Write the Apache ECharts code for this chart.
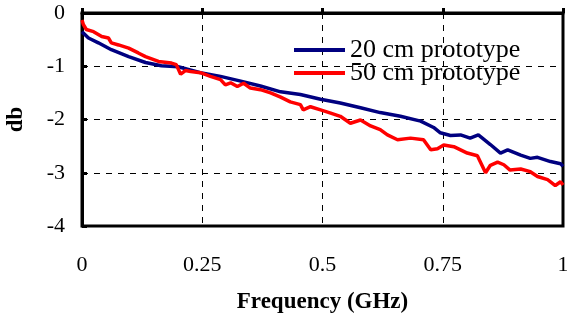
<!DOCTYPE html>
<html>
<head>
<meta charset="utf-8">
<script src="https://cdn.jsdelivr.net/npm/echarts@6/dist/echarts.min.js"></script>
<style>
html,body{margin:0;padding:0;background:#fff;}
#chart{width:567px;height:322px;}
</style>
</head>
<body>
<div id="chart"></div>
<script>
// Frequency (GHz) and loss (dB)
const freq20 = [0, 0.0135, 0.034, 0.061, 0.097, 0.132, 0.165, 0.2, 0.246, 0.288, 0.33, 0.371, 0.413, 0.454, 0.496, 0.537, 0.579, 0.62, 0.662, 0.704, 0.731, 0.745, 0.766, 0.787, 0.807, 0.824, 0.849, 0.87, 0.885, 0.912, 0.932, 0.947, 0.974, 0.995, 1.0];
const db20 = [-0.35, -0.47, -0.56, -0.69, -0.82, -0.93, -0.99, -1.01, -1.12, -1.19, -1.28, -1.37, -1.48, -1.53, -1.62, -1.69, -1.78, -1.87, -1.94, -2.03, -2.15, -2.25, -2.30, -2.29, -2.35, -2.29, -2.47, -2.63, -2.57, -2.67, -2.73, -2.71, -2.79, -2.83, -2.88];

const freq50 = [0, 0.003, 0.009, 0.024, 0.041, 0.055, 0.061, 0.076, 0.097, 0.117, 0.132, 0.159, 0.186, 0.196, 0.205, 0.215, 0.226, 0.246, 0.267, 0.288, 0.298, 0.309, 0.323, 0.336, 0.35, 0.371, 0.392, 0.413, 0.433, 0.454, 0.46, 0.475, 0.496, 0.517, 0.537, 0.558, 0.579, 0.6, 0.62, 0.635, 0.656, 0.683, 0.71, 0.725, 0.739, 0.752, 0.773, 0.801, 0.822, 0.839, 0.849, 0.864, 0.877, 0.89, 0.912, 0.932, 0.947, 0.968, 0.984, 0.995, 1.0];
const db50 = [-0.13, -0.22, -0.31, -0.35, -0.44, -0.47, -0.56, -0.60, -0.66, -0.75, -0.82, -0.91, -0.94, -0.97, -1.15, -1.08, -1.10, -1.12, -1.19, -1.25, -1.35, -1.31, -1.38, -1.32, -1.41, -1.44, -1.50, -1.58, -1.67, -1.72, -1.82, -1.76, -1.82, -1.88, -1.94, -2.07, -2.01, -2.12, -2.19, -2.29, -2.38, -2.35, -2.38, -2.57, -2.55, -2.48, -2.51, -2.63, -2.68, -3.00, -2.86, -2.80, -2.85, -2.95, -2.93, -2.98, -3.07, -3.13, -3.24, -3.17, -3.23];

const seriesNames = ['20 cm prototype', '50 cm prototype'];
const xTitle = 'Frequency (GHz)';
const yTitle = 'db';

const pairs = (xs, ys) => xs.map((x, i) => [x, ys[i]]);
const serif = 'Liberation Serif';

const chart = echarts.init(document.getElementById('chart'), null, {renderer: 'canvas'});
chart.setOption({
  animation: false,
  backgroundColor: '#fff',
  grid: {left: 82, right: 4, top: 13, height: 213, containLabel: false, outerBoundsMode: 'none',
         show: true, borderColor: '#000', borderWidth: 3, backgroundColor: 'transparent'},
  legend: {
    orient: 'vertical', left: 289, top: 32,
    itemWidth: 51, itemHeight: 4, itemGap: -3, itemTextGap: 4, icon: 'rect',
    textStyle: {fontFamily: serif, fontSize: 26, color: '#000'},
    data: seriesNames
  },
  xAxis: {
    type: 'value', min: 0, max: 1, interval: 0.25,
    name: xTitle, nameLocation: 'middle', nameGap: 65,
    nameTextStyle: {fontFamily: serif, fontSize: 23, fontWeight: 'bold', color: '#000'},
    axisLine: {show: true, lineStyle: {color: '#000', width: 3}},
    axisTick: {show: true, inside: true, length: 5, lineStyle: {color: '#000', width: 3}},
    axisLabel: {fontFamily: serif, fontSize: 22, color: '#000', margin: 28},
    splitLine: {show: true, lineStyle: {color: '#000', width: 1, type: [6, 6]}}
  },
  yAxis: {
    type: 'value', min: -4, max: 0, interval: 1,
    name: yTitle, nameLocation: 'middle', nameGap: 54,
    nameTextStyle: {fontFamily: serif, fontSize: 23, fontWeight: 'bold', color: '#000'},
    axisLine: {show: true, lineStyle: {color: '#000', width: 3}},
    axisTick: {show: true, inside: true, length: 5, lineStyle: {color: '#000', width: 3}},
    axisLabel: {fontFamily: serif, fontSize: 22, color: '#000', margin: 17},
    splitLine: {show: true, lineStyle: {color: '#000', width: 1, type: [6, 6]}}
  },
  series: [
    {name: seriesNames[0], type: 'line', data: pairs(freq20, db20), showSymbol: false, symbol: 'none',
     lineStyle: {color: '#000080', width: 3.5}, itemStyle: {color: '#000080'}},
    {name: seriesNames[1], type: 'line', data: pairs(freq50, db50), showSymbol: false, symbol: 'none',
     lineStyle: {color: '#ff0000', width: 3.5}, itemStyle: {color: '#ff0000'}}
  ]
});
</script>
</body>
</html>
